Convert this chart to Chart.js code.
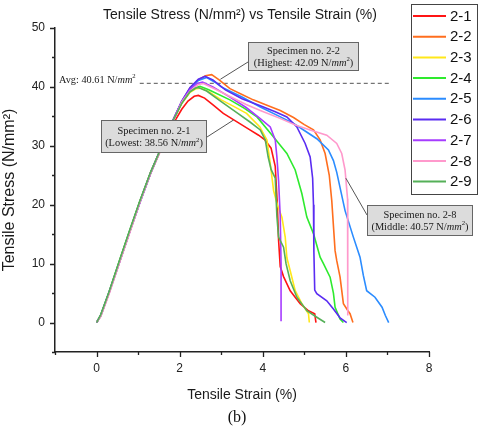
<!DOCTYPE html>
<html>
<head>
<meta charset="utf-8">
<script src="https://cdn.jsdelivr.net/npm/chart.js@4.4.1/dist/chart.umd.min.js"></script>
<style>
  html, body { margin: 0; padding: 0; background: #fff; }
  canvas { display: block; }
</style>
</head>
<body>
<canvas id="myChart" width="483" height="431"></canvas>
<script>
// stress-strain curves, [strain %, stress N/mm2]
const specimens = ["2-1", "2-2", "2-3", "2-4", "2-5", "2-6", "2-7", "2-8", "2-9"];
const colors = ["#ff1414", "#ff6e1e", "#ffe81a", "#2eea2e", "#2b8cff", "#5a2cf2", "#a63cff", "#ff99cc", "#55b058"];

const s21 = [[0,0],[0.1,1.2],[0.3,5],[0.56,10.5],[0.8,15.5],[1.04,20.4],[1.3,25.3],[1.6,30.2],[1.85,33.8],[2.05,36.2],[2.2,37.6],[2.35,38.4],[2.45,38.56],[2.6,38.1],[2.81,36.9],[3.05,35.5],[3.37,34.1],[3.69,32.7],[3.9,31.8],[4.05,31],[4.2,29.6],[4.3,26.5],[4.35,20],[4.38,14],[4.42,9.5],[4.5,7.8],[4.66,5.4],[4.9,3.2],[5.1,2],[5.25,1.5],[5.28,0]];
const s22 = [[0,0],[0.1,1.1],[0.3,5],[0.56,10.4],[0.8,15.4],[1.04,20.4],[1.3,25.4],[1.6,30.4],[1.85,34.5],[2.05,37.5],[2.25,39.8],[2.45,41.2],[2.62,41.9],[2.77,42.09],[2.95,41.2],[3.21,39.7],[3.5,38.7],[3.77,37.8],[4.1,36.9],[4.42,36],[4.74,34.8],[5.0,33.6],[5.22,32.7],[5.38,31],[5.5,28.7],[5.6,25],[5.66,20.7],[5.74,12.2],[5.78,10.5],[5.86,7.7],[5.94,3.2],[6.05,2],[6.1,1.5],[6.17,0]];
const s23 = [[0,0],[0.1,1.2],[0.3,5.1],[0.56,10.6],[0.8,15.6],[1.04,20.5],[1.3,25.5],[1.6,30.4],[1.85,34.4],[2.05,37.2],[2.25,39.1],[2.4,39.7],[2.5,39.8],[2.7,39.2],[3.0,37.8],[3.3,36.7],[3.61,35.5],[3.93,33.2],[4.1,31],[4.18,27],[4.26,22.4],[4.35,20],[4.46,17.9],[4.54,14.5],[4.58,11],[4.66,8.8],[4.78,5.4],[4.94,3.2],[5.1,1.5],[5.12,0]];
const s24 = [[0,0],[0.1,1.3],[0.3,5.2],[0.56,10.7],[0.8,15.7],[1.04,20.6],[1.3,25.5],[1.6,30.4],[1.85,34.5],[2.05,37.3],[2.25,39.2],[2.4,39.9],[2.49,40.1],[2.7,39.5],[3.21,37.8],[3.55,36.4],[3.86,34.9],[4.26,31.5],[4.42,30.1],[4.58,28.7],[4.78,25.9],[4.94,21.9],[5.06,17.9],[5.22,15.1],[5.38,11.1],[5.46,10],[5.62,7.7],[5.7,5],[5.74,2.6],[5.86,0.6],[5.94,0]];
const s25 = [[0,0],[0.1,1.1],[0.3,5],[0.56,10.4],[0.8,15.4],[1.04,20.3],[1.3,25.3],[1.6,30.3],[1.85,34.4],[2.05,37.5],[2.25,39.7],[2.45,41.1],[2.65,41.6],[2.85,40.8],[3.0,40],[3.5,38.3],[3.94,36.6],[4.4,35],[4.74,33.8],[5.0,32.6],[5.3,31.2],[5.58,29.3],[5.7,27.5],[5.78,25.5],[5.98,19],[6.18,14.5],[6.34,11.1],[6.42,8],[6.5,5.4],[6.7,4.3],[6.87,2.6],[6.95,1.2],[7.03,0]];
const s26 = [[0,0],[0.1,1.2],[0.3,5.1],[0.56,10.5],[0.8,15.5],[1.04,20.4],[1.3,25.4],[1.6,30.4],[1.85,34.5],[2.05,37.6],[2.25,39.9],[2.45,41.3],[2.61,41.8],[2.8,41.2],[3.1,39.5],[3.5,38],[3.94,36.8],[4.3,35.8],[4.58,34.9],[4.82,33.2],[5.02,30.4],[5.14,28.1],[5.2,24.5],[5.22,20],[5.23,12],[5.25,5.5],[5.3,4.9],[5.54,3.7],[5.7,2.3],[5.86,0.8],[6.02,0]];
const s27 = [[0,0],[0.1,1.2],[0.3,5],[0.56,10.5],[0.8,15.5],[1.04,20.4],[1.3,25.4],[1.6,30.4],[1.85,34.5],[2.05,37.5],[2.25,39.6],[2.42,40.6],[2.55,40.8],[2.8,40],[3.2,38.3],[3.6,36.5],[3.94,34.6],[4.18,33.2],[4.3,31],[4.34,28.1],[4.38,24.1],[4.42,18],[4.44,10],[4.44,0.2]];
const s28 = [[0,0],[0.1,1],[0.3,4.8],[0.56,10.3],[0.8,15.3],[1.04,20.3],[1.3,25.3],[1.6,30.2],[1.85,34.2],[2.05,37.4],[2.25,39.3],[2.45,40.4],[2.57,40.57],[2.8,39.8],[3.2,38.4],[3.6,37],[3.94,36],[4.4,34.7],[4.8,33.5],[5.14,32.7],[5.54,31.8],[5.78,30.4],[5.9,28.7],[5.98,25.9],[6.04,21],[6.04,10],[6.05,1.2]];
const s29 = [[0,0],[0.1,1.3],[0.3,5.2],[0.56,10.7],[0.8,15.7],[1.04,20.6],[1.3,25.5],[1.6,30.4],[1.85,34.4],[2.05,37.2],[2.25,39.2],[2.38,39.8],[2.45,39.9],[2.65,39.3],[3.0,37.5],[3.4,35.5],[3.7,34],[3.94,32.7],[4.06,31],[4.13,28.1],[4.2,26],[4.3,24.5],[4.34,18],[4.38,14.5],[4.5,12.8],[4.56,10],[4.66,7.1],[4.82,4.3],[5.06,2],[5.3,0.9],[5.5,0]];
const series = [s21, s22, s23, s24, s25, s26, s27, s28, s29];

// average peak line
const avgValue = 40.61;
const avgStrain = [1.04, 7.05];

const xTicks = [-1, 0, 1, 2, 3, 4, 5, 6, 7, 8];
const yTicks = [-5, 0, 5, 10, 15, 20, 25, 30, 35, 40, 45, 50];

const SANS = "'Liberation Sans', Arial, sans-serif";
const SERIF = "'Liberation Serif', 'Times New Roman', serif";

const datasets = series.map((pts, i) => ({
  label: specimens[i],
  data: pts,
  borderColor: colors[i],
  borderWidth: 1.6,
  pointRadius: 0,
  tension: 0,
  order: 9 - i,
}));
datasets.push({
  label: "avg",
  data: avgStrain.map((x) => [x, avgValue]),
  borderColor: "#555",
  borderWidth: 1,
  borderDash: [4, 3],
  pointRadius: 0,
  order: 20,
});

// text with italic / superscript pieces
function setFont(c, p, size) {
  c.font = (p.i ? "italic " : "") + (p.sup ? size * 0.65 : size) + "px " + SERIF;
}
function drawRich(c, parts, x, y, size, align) {
  let w = 0;
  parts.forEach((p) => { setFont(c, p, size); w += c.measureText(p.t).width; });
  let cx = align === "center" ? x - w / 2 : x;
  c.textBaseline = "middle";
  c.textAlign = "left";
  c.fillStyle = "#1a1a1a";
  parts.forEach((p) => {
    setFont(c, p, size);
    c.fillText(p.t, cx, p.sup ? y - size * 0.35 : y);
    cx += c.measureText(p.t).width;
  });
}

const callouts = [
  { box: [248, 42, 111, 29], from: [248, 62], to: [2.98, 41.3],
    lines: [[{ t: "Specimen no. 2-2" }], [{ t: "(Highest: 42.09 N/" }, { t: "mm", i: true }, { t: "2", sup: true }, { t: ")" }]] },
  { box: [101, 120, 106, 33], from: [207, 137], to: [3.3, 34.4],
    lines: [[{ t: "Specimen no. 2-1" }], [{ t: "(Lowest: 38.56 N/" }, { t: "mm", i: true }, { t: "2", sup: true }, { t: ")" }]] },
  { box: [367, 205, 106, 31], from: [367, 215], to: [6.0, 24.5],
    lines: [[{ t: "Specimen no. 2-8" }], [{ t: "(Middle: 40.57 N/" }, { t: "mm", i: true }, { t: "2", sup: true }, { t: ")" }]] },
];

const extras = {
  id: "extras",
  afterDraw(chart) {
    const c = chart.ctx;
    const xs = chart.scales.x, ys = chart.scales.y;
    const area = chart.chartArea;
    c.save();

    // title
    c.fillStyle = "#1a1a1a";
    c.font = "14px " + SANS;
    c.textAlign = "center";
    c.textBaseline = "middle";
    c.fillText("Tensile Stress (N/mm²) vs Tensile Strain (%)", 240, 15);

    // tick marks, long for labelled ticks
    c.strokeStyle = "#222";
    c.lineWidth = 1.3;
    c.beginPath();
    xTicks.forEach((v) => {
      const px = Math.round(xs.getPixelForValue(v)) + 0.5;
      c.moveTo(px, area.bottom);
      c.lineTo(px, area.bottom + (v % 2 === 0 ? 5 : 3));
    });
    yTicks.forEach((v) => {
      const py = Math.round(ys.getPixelForValue(v)) + 0.5;
      c.moveTo(area.left, py);
      c.lineTo(area.left - (v % 10 === 0 ? 5 : 3), py);
    });
    c.stroke();

    // avg label
    drawRich(c, [{ t: "Avg: 40.61 N/" }, { t: "mm", i: true }, { t: "2", sup: true }], 59, ys.getPixelForValue(avgValue) - 3, 10.3, "left");

    // callout boxes
    callouts.forEach((o) => {
      c.strokeStyle = "#555";
      c.lineWidth = 1;
      c.beginPath();
      c.moveTo(o.from[0], o.from[1]);
      c.lineTo(xs.getPixelForValue(o.to[0]), ys.getPixelForValue(o.to[1]));
      c.stroke();
      const [bx, by, bw, bh] = o.box;
      c.fillStyle = "#dcdcdc";
      c.fillRect(bx, by, bw, bh);
      c.strokeStyle = "#666";
      c.strokeRect(bx + 0.5, by + 0.5, bw - 1, bh - 1);
      drawRich(c, o.lines[0], bx + bw / 2, by + bh * 0.33, 10.4, "center");
      drawRich(c, o.lines[1], bx + bw / 2, by + bh * 0.72, 10.4, "center");
    });

    // legend
    c.fillStyle = "#fff";
    c.fillRect(411, 4, 66, 190);
    c.strokeStyle = "#444";
    c.lineWidth = 1;
    c.strokeRect(411.5, 4.5, 66, 190);
    specimens.forEach((s, i) => {
      const y = 16 + i * 20.7;
      c.strokeStyle = colors[i];
      c.lineWidth = 2;
      c.beginPath();
      c.moveTo(413, y);
      c.lineTo(446, y);
      c.stroke();
      c.fillStyle = "#111";
      c.font = "15px " + SANS;
      c.textAlign = "left";
      c.textBaseline = "middle";
      c.fillText(s, 450, y + 0.5);
    });

    // panel tag
    c.fillStyle = "#111";
    c.font = "16px " + SERIF;
    c.textAlign = "center";
    c.textBaseline = "middle";
    c.fillText("(b)", 237, 418);
    c.restore();
  },
};

const ctx = document.getElementById("myChart");

new Chart(ctx, {
  type: "line",
  data: { datasets: datasets },
  plugins: [extras],
  options: {
    responsive: false,
    animation: false,
    layout: { padding: { left: 0, right: 54, top: 28, bottom: 0 } },
    plugins: {
      legend: { display: false },
      tooltip: { enabled: false },
      title: { display: false },
    },
    scales: {
      x: {
        type: "linear",
        min: -1,
        max: 8,
        afterFit(s) { s.height = 79; },
        afterBuildTicks(s) { s.ticks = xTicks.map((v) => ({ value: v })); },
        ticks: {
          autoSkip: false,
          maxRotation: 0,
          padding: 9,
          color: "#222",
          font: { family: SANS, size: 12 },
          callback: (v) => (v >= 0 && v % 2 === 0 ? v : ""),
        },
        grid: { drawOnChartArea: false, drawTicks: false },
        border: { color: "#222", width: 1.5 },
        title: {
          display: true,
          text: "Tensile Strain (%)",
          color: "#1a1a1a",
          font: { family: SANS, size: 14 },
          padding: { top: 4, bottom: 27 },
        },
      },
      y: {
        min: -5,
        max: 50,
        afterFit(s) { s.width = 55; },
        afterBuildTicks(s) { s.ticks = yTicks.map((v) => ({ value: v })); },
        ticks: {
          autoSkip: false,
          padding: 10,
          color: "#222",
          font: { family: SANS, size: 12 },
          callback: (v) => (v >= 0 && v % 10 === 0 ? v : ""),
        },
        grid: { drawOnChartArea: false, drawTicks: false },
        border: { color: "#222", width: 1.5 },
        title: {
          display: true,
          text: "Tensile Stress (N/mm²)",
          color: "#1a1a1a",
          font: { family: SANS, size: 16 },
          padding: { top: 0, bottom: 4 },
        },
      },
    },
  },
});
</script>
</body>
</html>
